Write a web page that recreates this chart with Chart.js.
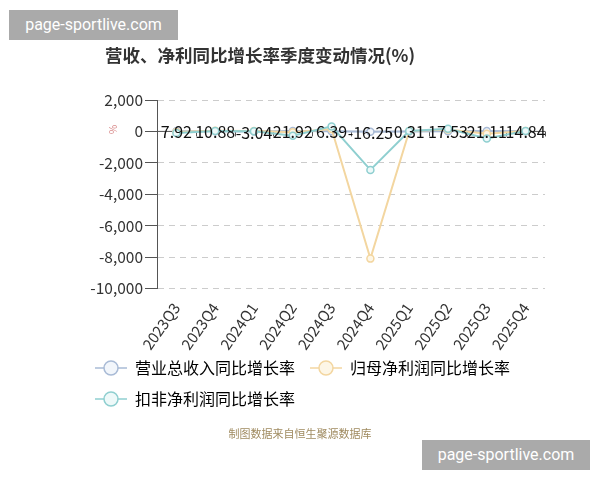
<!DOCTYPE html>
<html>
<head>
<meta charset="utf-8">
<script src="https://cdn.jsdelivr.net/npm/chart.js@4/dist/chart.umd.min.js"></script>
<style>
    body { margin: 0; background: #fff; font-family: "Noto Sans CJK SC", sans-serif; }
    #wrap { position: relative; width: 600px; height: 480px; }
    #title { position: absolute; left: 0; width: 520px; top: 42px; text-align: center; font-size: 17.5px; font-weight: bold; color: #333; }
    #source { position: absolute; left: 0; width: 600px; top: 425px; text-align: center; font-size: 11px; color: #a08b60; }
    .mark { position: absolute; background: #aaa; color: #fff; font-family: Roboto, sans-serif; font-size: 16px; line-height: 30px; text-align: center; }
</style>
</head>
<body>
<div id="wrap">
    <canvas id="myChart" width="600" height="480"></canvas>
    <div id="title">营收、净利同比增长率季度变动情况(%)</div>
    <div id="source">制图数据来自恒生聚源数据库</div>
    <div class="mark" style="left:9px;top:10px;width:169px;height:30px;">page-sportlive.com</div>
    <div class="mark" style="left:422px;top:440px;width:168px;height:30px;">page-sportlive.com</div>
</div>
<script>
const quarters = ['2023Q3', '2023Q4', '2024Q1', '2024Q2', '2024Q3', '2024Q4', '2025Q1', '2025Q2', '2025Q3', '2025Q4'];
const revenueGrowth = [7.92, 10.88, -3.04, 21.92, 6.39, -16.25, 0.31, 17.53, 21.11, 14.84];
const netProfitGrowth = [-30, 40, 20, -60, 150, -8100, 20, 120, -150, 30];
const deductedProfitGrowth = [-100, 20, 10, -270, 320, -2450, 20, 170, -450, 30];
const yTicks = [2000, 0, -2000, -4000, -6000, -8000, -10000];

const seriesNames = ['营业总收入同比增长率', '归母净利润同比增长率', '扣非净利润同比增长率'];
const lineColors = ['#a9bbd6', '#f3d6a0', '#8fcfd0'];
const fillColors = ['#f2f6fb', '#fdf6e6', '#eef9f9'];

// small "—o—" legend icon like the original
const makeIcon = function (line, fill) {
    const c = document.createElement('canvas');
    c.width = 32;
    c.height = 18;
    const g = c.getContext('2d');
    g.strokeStyle = line;
    g.lineWidth = 1.5;
    g.beginPath();
    g.moveTo(0, 9);
    g.lineTo(32, 9);
    g.stroke();
    g.beginPath();
    g.arc(16, 9, 7, 0, Math.PI * 2);
    g.fillStyle = fill;
    g.fill();
    g.stroke();
    return c;
};

// zero axis line, ticks on it, "%" label and value labels
const extras = {
    id: 'extras',
    afterLayout(chart) {
        // pull the legend up a bit, closer to the rotated labels
        chart.legend.top -= 11;
        chart.legend.bottom -= 11;
    },
    beforeDatasetsDraw(chart) {
        const ctx = chart.ctx;
        const y = chart.scales.y;
        const y0 = y.getPixelForValue(0);
        const area = chart.chartArea;
        ctx.save();
        ctx.strokeStyle = '#555';
        ctx.lineWidth = 1;
        ctx.beginPath();
        ctx.moveTo(area.left, y0);
        ctx.lineTo(area.right, y0);
        const step = (area.right - area.left) / quarters.length;
        for (let i = 0; i <= quarters.length; i++) {
            const px = Math.round(area.left + step * i) + 0.5;
            ctx.moveTo(px, y0);
            ctx.lineTo(px, y0 + 5);
        }
        ctx.stroke();
        ctx.translate(area.left - 44, y0 - 2);
        ctx.rotate(-Math.PI / 2);
        ctx.fillStyle = '#d98a8a';
        ctx.font = '10px "Noto Sans CJK SC"';
        ctx.textAlign = 'center';
        ctx.textBaseline = 'middle';
        ctx.fillText('%', 0, 0);
        ctx.restore();
    },
    afterDatasetsDraw(chart) {
        const ctx = chart.ctx;
        const meta = chart.getDatasetMeta(0);
        ctx.save();
        ctx.fillStyle = '#111';
        ctx.font = '16px "Noto Sans CJK SC"';
        ctx.textAlign = 'center';
        ctx.textBaseline = 'middle';
        meta.data.forEach(function (pt, i) {
            ctx.fillText(String(revenueGrowth[i]), pt.x, pt.y + 1);
        });
        ctx.restore();
    }
};

const allSeries = [revenueGrowth, netProfitGrowth, deductedProfitGrowth];
const datasets = allSeries.map(function (values, i) {
    return {
        label: seriesNames[i],
        data: values,
        borderColor: lineColors[i],
        backgroundColor: fillColors[i],
        pointBackgroundColor: fillColors[i],
        pointBorderColor: lineColors[i],
        pointRadius: 3.5,
        pointBorderWidth: 1.5,
        borderWidth: 2,
        pointStyle: 'circle',
        order: 2 - i,
        icon: makeIcon(lineColors[i], fillColors[i])
    };
});

new Chart(document.getElementById('myChart'), {
    type: 'line',
    data: { labels: quarters, datasets: datasets },
    plugins: [extras],
    options: {
        responsive: false,
        animation: false,
        layout: { padding: { left: 80, top: 100, right: 55, bottom: 52 } },
        plugins: {
            title: { display: false },
            tooltip: { enabled: false },
            legend: {
                position: 'bottom',
                align: 'start',
                labels: {
                    usePointStyle: true,
                    pointStyleWidth: 32,
                    color: '#333',
                    font: { size: 16, family: '"Noto Sans CJK SC"' },
                    padding: 15,
                    generateLabels: function (chart) {
                        return chart.data.datasets.map(function (ds, i) {
                            return {
                                text: ds.label,
                                pointStyle: ds.icon,
                                fillStyle: ds.backgroundColor,
                                strokeStyle: ds.borderColor,
                                lineWidth: 0,
                                hidden: false,
                                datasetIndex: i
                            };
                        });
                    }
                }
            }
        },
        scales: {
            x: {
                offset: true,
                grid: { display: false },
                border: { display: false },
                ticks: {
                    color: '#333',
                    font: { size: 15, family: '"Noto Sans CJK SC"' },
                    maxRotation: 55,
                    minRotation: 55,
                    autoSkip: false
                }
            },
            y: {
                min: -10000,
                max: 2000,
                afterFit: function (axis) { axis.width = 77; },
                afterBuildTicks: function (axis) {
                    axis.ticks = yTicks.map(function (v) { return { value: v }; });
                },
                grid: {
                    color: '#cccccc',
                    tickColor: '#555',
                    tickLength: 12,
                    tickBorderDash: []
                },
                border: { color: '#555', dash: [6, 5] },
                ticks: {
                    color: '#333',
                    padding: 2,
                    font: { size: 15.5, family: '"Noto Sans CJK SC"' },
                    callback: function (v) { return v.toLocaleString('en-US'); }
                }
            }
        }
    }
});
</script>
</body>
</html>
